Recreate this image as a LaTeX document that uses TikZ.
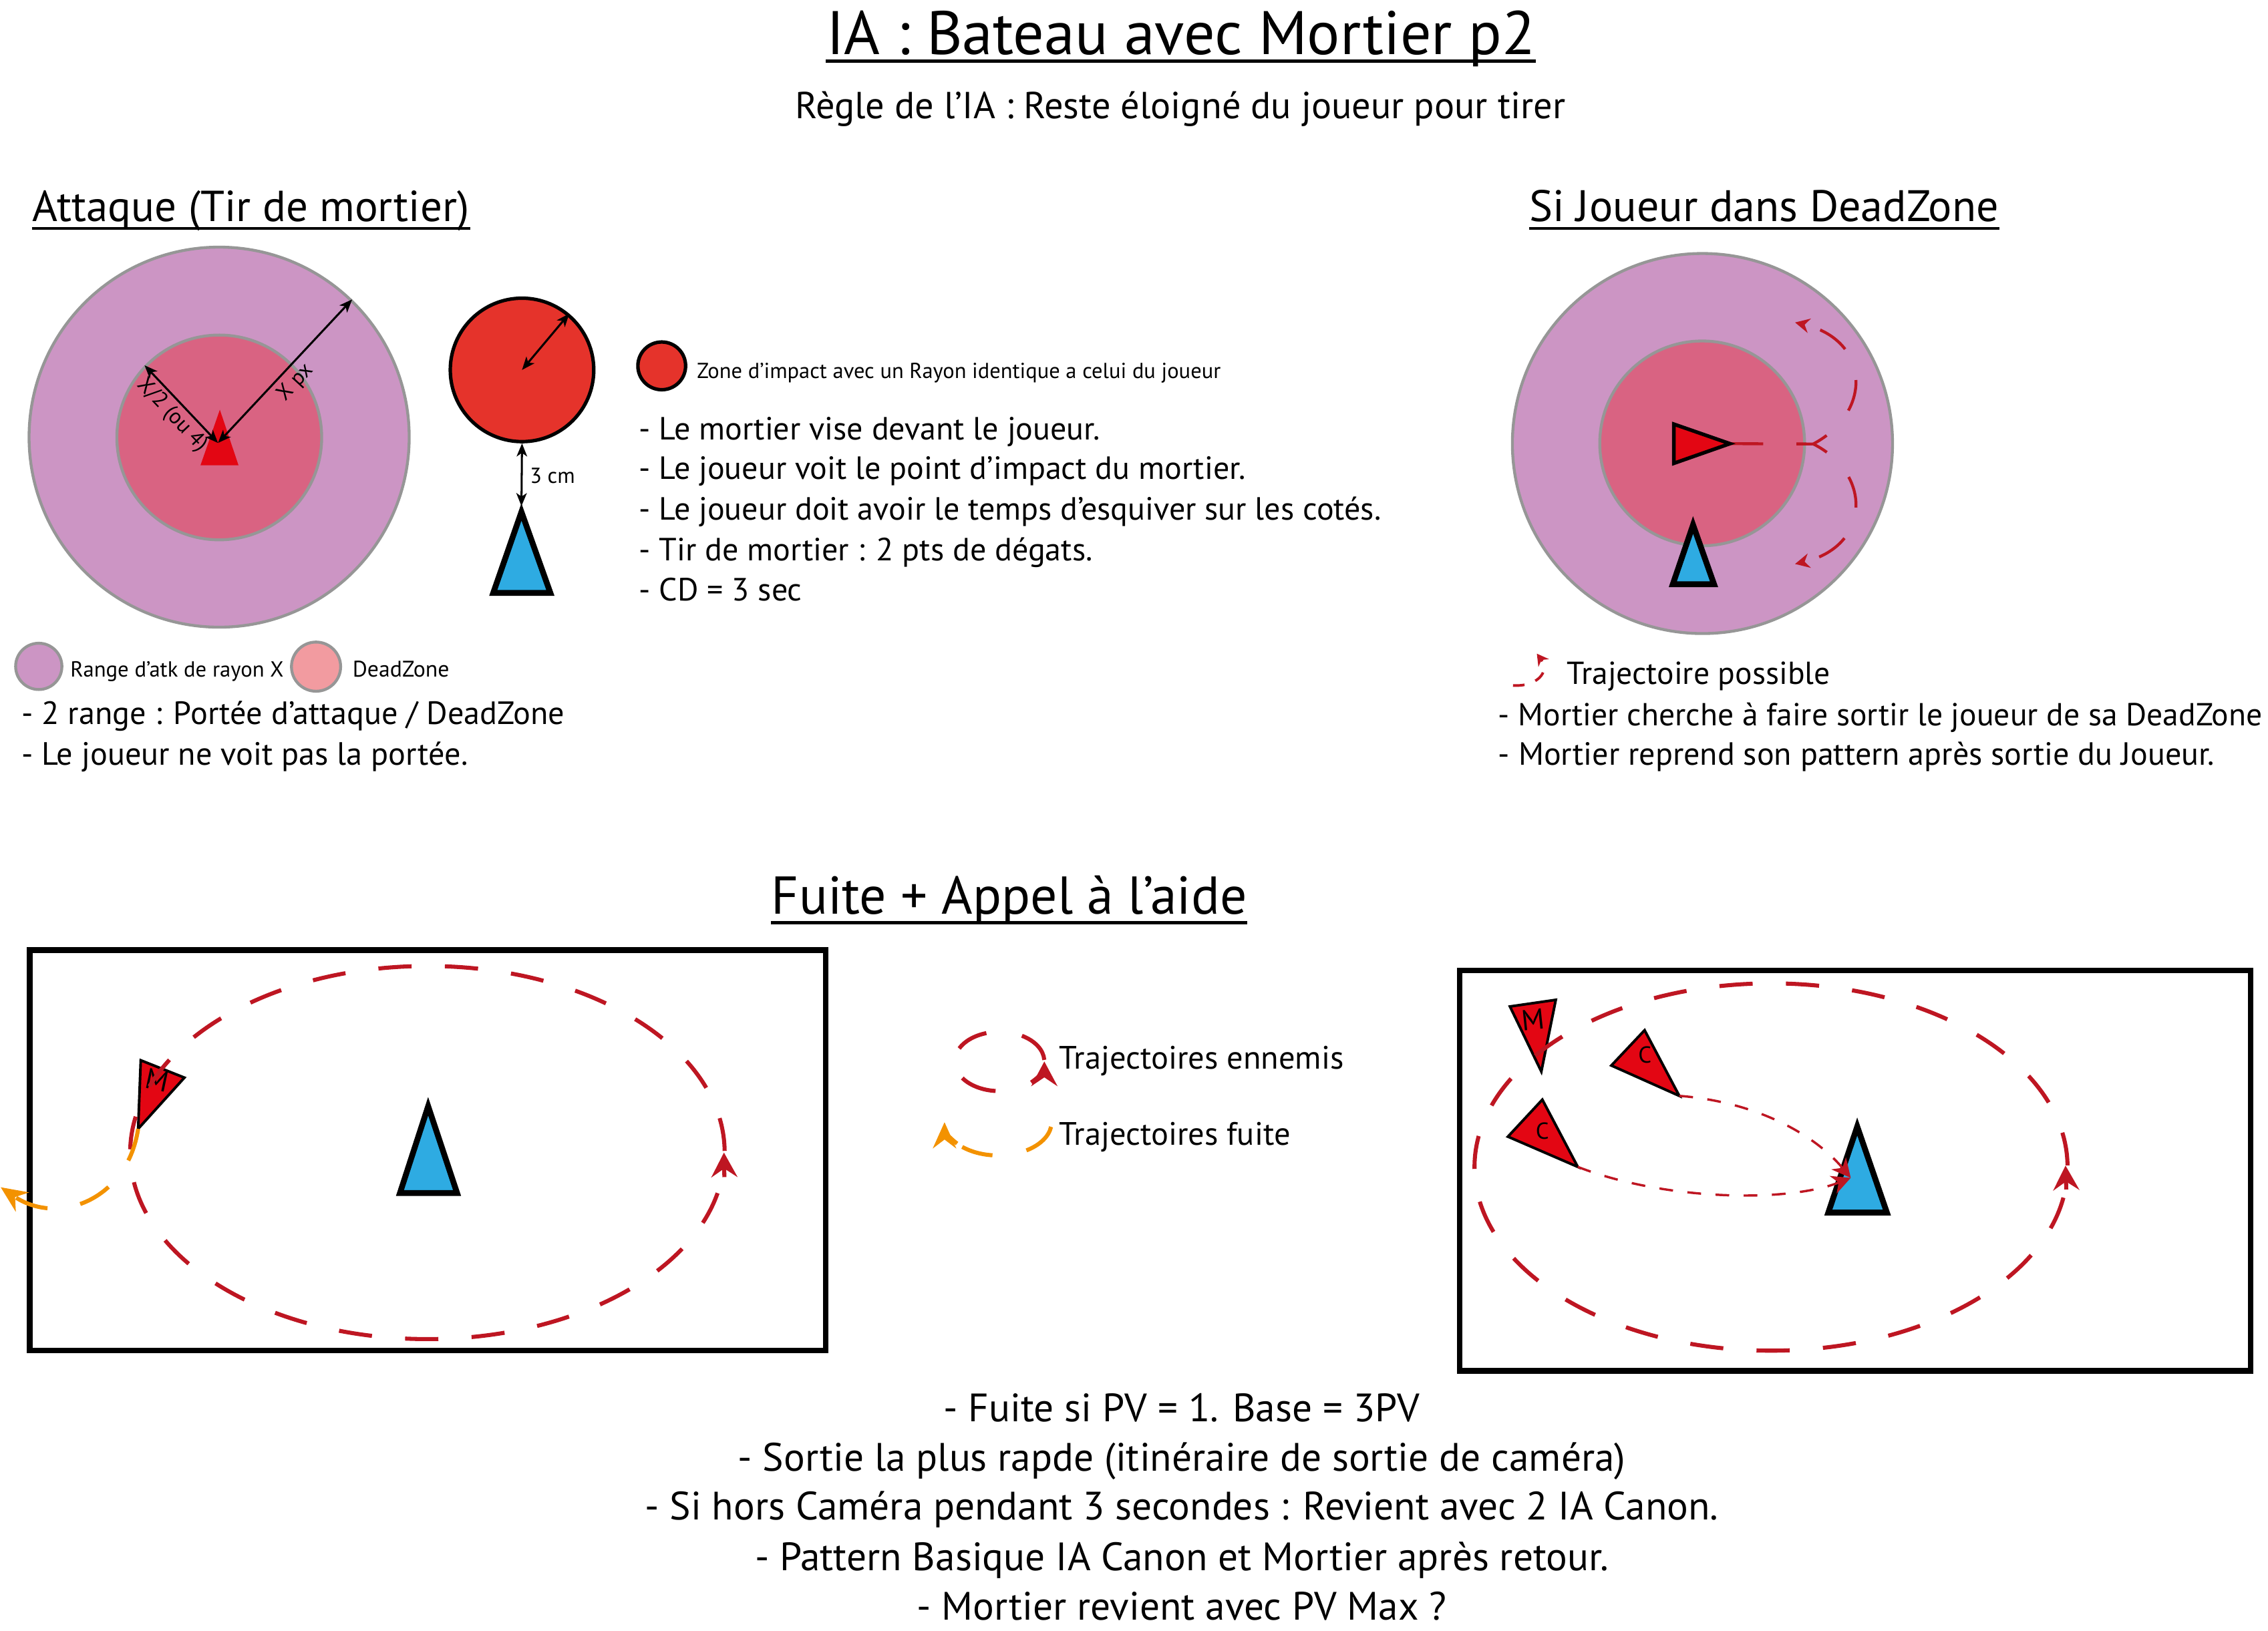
\documentclass[tikz,border=0pt]{standalone}
\usepackage{fontspec}
\setmainfont{PT Sans}
\usetikzlibrary{arrows.meta}
\definecolor{purp}{RGB}{204,149,196}
\definecolor{dzin}{RGB}{217,99,130}
\definecolor{dzpink}{RGB}{242,155,160}
\definecolor{grayst}{RGB}{150,150,150}
\definecolor{shipred}{RGB}{227,6,19}
\definecolor{impred}{RGB}{229,51,43}
\definecolor{pblue}{RGB}{46,171,226}
\definecolor{dred}{RGB}{190,22,34}
\definecolor{orng}{RGB}{243,146,0}
\begin{document}
\begin{tikzpicture}[x=0.5pt,y=-0.5pt,
  txt/.style={inner sep=0pt, anchor=base west},
  ctxt/.style={inner sep=0pt, anchor=base},
  zoneout/.style={circle, draw=grayst, line width=1pt, fill=purp, inner sep=0pt},
  zonein/.style={circle, draw=grayst, line width=1pt, fill=dzin, inner sep=0pt},
  dzleg/.style={circle, draw=grayst, line width=1pt, fill=dzpink, inner sep=0pt},
  impact/.style={circle, draw=black, line width=1.2pt, fill=impred, inner sep=0pt},
  dblarr/.style={line width=0.7pt, {Stealth[length=4.5pt,width=3.6pt,inset=1.2pt]}-{Stealth[length=4.5pt,width=3.6pt,inset=1.2pt]}},
  player/.style={fill=pblue, draw=black, line width=2pt, miter limit=10},
  ship/.style={fill=shipred, draw=black, line width=0.9pt},
  reddash/.style={draw=dred, line width=1.4pt, dash pattern=on 11.5pt off 11.5pt},
  redtip/.style={draw=dred, line width=1.4pt, -{Stealth[length=8.5pt,width=9pt,inset=3pt]}},
  dzarc/.style={draw=dred, line width=1pt, dash pattern=on 11pt off 11.5pt, dash phase=5.5pt, -{Stealth[length=5pt,width=5pt,inset=1.6pt]}},
  ctraj/.style={draw=dred, line width=0.8pt, dash pattern=on 4.75pt off 5pt, -{Stealth[length=6.5pt,width=6.5pt,inset=2pt]}},
  fuite/.style={draw=orng, line width=1.4pt, dash pattern=on 11.5pt off 11.5pt, -{Stealth[length=9pt,width=8pt,inset=3pt]}},
  uline/.style={line width=1pt}
]
\useasboundingbox (0,0) rectangle (1568,1127.4);

% ---------------- titles
\node[txt, font=\fontsize{21.25}{24}\selectfont] (ttl) at (571,37.7) {IA : Bateau avec Mortier p2};
\draw[line width=1.2pt] ([yshift=-2.2pt]ttl.base west) -- ([yshift=-2.2pt]ttl.base east);
\node[ctxt, font=\fontsize{13}{16}\selectfont] (sub) at (816,82) {Règle de l’IA : Reste éloigné du joueur pour tirer};

\node[txt, font=\fontsize{15}{18}\selectfont] (hatk) at (22,153) {Attaque (Tir de mortier)};
\draw[uline] ([yshift=-2.5pt]hatk.base west) -- ([yshift=-2.5pt]hatk.base east);
\node[txt, font=\fontsize{15.25}{18}\selectfont] (hdz) at (1057,153) {Si Joueur dans DeadZone};
\draw[uline] ([yshift=-2.5pt]hdz.base west) -- ([yshift=-2.5pt]hdz.base east);

% ---------------- attaque
\node[zoneout, minimum size=131.4pt] (atkout) at (151.5,302.3) {};
\node[zonein, minimum size=70.8pt] (atkin) at (151.6,302.5) {};
\fill[shipred] (152,283.3) -- (164.9,321.8) -- (138.6,321.8) -- cycle;
\coordinate (atkc) at (150.7,306.3);
\draw[dblarr] (atkc) -- (atkin.136);
\draw[dblarr] (atkc) -- (atkout.46.5);
\node[inner sep=0pt, rotate=-46.6, font=\fontsize{7.5}{9}\selectfont] (lhalf) at (119,287) {X/2 (ou 4)};
\node[inner sep=0pt, rotate=47.5, font=\fontsize{7.5}{9}\selectfont] (lx) at (204.5,264.5) {X px};

\node[impact, minimum size=49.6pt] (imp) at (360.9,255.8) {};
\draw[dblarr] (imp.center) -- (imp.50);
\coordinate (p1apex) at (360.5,350);
\draw[player] (360.5,354) -- (380.5,410) -- (341,410) -- cycle;
\draw[dblarr] (imp.south) -- (p1apex);
\node[inner sep=0pt, anchor=west, font=\fontsize{7.5}{9}\selectfont] (l3cm) at (366,329) {3 cm};

\node[impact, minimum size=16.5pt] (implg) at (457.5,253) {};
\node[txt, font=\fontsize{7.5}{9}\selectfont] (limp) at (481.5,261.5) {Zone d’impact avec un Rayon identique a celui du joueur};

\begin{scope}[every node/.style={txt, font=\fontsize{11.1}{13}\selectfont}]
\node (b1) at (441.5,304) {- Le mortier vise devant le joueur.};
\node (b2) at (441.5,331.6) {- Le joueur voit le point d’impact du mortier.};
\node (b3) at (441.5,359.6) {- Le joueur doit avoir le temps d’esquiver sur les cotés.};
\node (b4) at (441.5,387.5) {- Tir de mortier : 2 pts de dégats.};
\node (b5) at (441.5,415.4) {- CD = 3 sec};
\end{scope}

\node[zoneout, minimum size=16pt] (lgpurp) at (26.8,460.8) {};
\node[txt, font=\fontsize{7.55}{9}\selectfont] (lrange) at (48.3,468) {Range d’atk de rayon X};
\node[dzleg, minimum size=17pt] (lgpink) at (218.5,461) {};
\node[txt, font=\fontsize{7.8}{9}\selectfont] (ldz) at (243.4,468) {DeadZone};
\node[txt, font=\fontsize{11.15}{13}\selectfont] (a1) at (14.6,501) {- 2 range : Portée d’attaque / DeadZone};
\node[txt, font=\fontsize{11.15}{13}\selectfont] (a2) at (14.6,529) {- Le joueur ne voit pas la portée.};

% ---------------- deadzone
\node[zoneout, minimum size=131.4pt] (dzout) at (1177,306.7) {};
\node[zonein, minimum size=70.8pt] (dzinn) at (1176.8,306.6) {};
\coordinate (dztip) at (1196,306.8);
\coordinate (dzv) at (1253.6,307);
\draw[dred, line width=1pt, dash pattern=on 11.5pt off 11.5pt] (dztip) -- (dzv);
\draw[ship, line width=1.25pt] (1157.2,293.3) -- (dztip) -- (1157.2,320.4) -- cycle;
\coordinate (dzup) at (1241,223);
\coordinate (dzdn) at (1241,390);
\draw[dzarc] (dzv) .. controls (1295,285) and (1293,235) .. (dzup);
\draw[dzarc] (dzv) .. controls (1295,328) and (1293,378) .. (dzdn);
\draw[player] (1170.5,363) -- (1185,404) -- (1156.5,404) -- cycle;

\coordinate (tpA) at (1046,474);
\coordinate (tpB) at (1062.5,452);
\draw[draw=dred, line width=0.9pt, dash pattern=on 4pt off 4pt, -{Stealth[length=4pt,width=4.5pt,inset=1.3pt]}] (tpA) .. controls (1062,475) and (1072,465) .. (tpB);
\node[txt, font=\fontsize{11}{13}\selectfont] (ltp) at (1083,473.4) {Trajectoire possible};
\node[txt, font=\fontsize{11}{13}\selectfont] (d1) at (1035.5,502) {- Mortier cherche à faire sortir le joueur de sa DeadZone};
\node[txt, font=\fontsize{11.1}{13}\selectfont] (d2) at (1035.5,529) {- Mortier reprend son pattern après sortie du Joueur.};

% ---------------- fuite
\node[txt, font=\fontsize{18.4}{21}\selectfont] (hfu) at (533,632) {Fuite + Appel à l’aide};
\draw[line width=1.1pt] ([yshift=-3pt]hfu.base west) -- ([yshift=-3pt]hfu.base east);

% left box
\draw[line width=1.9pt] (20.5,657) rectangle (571,934);
\draw[ship] (97.3,733.2) -- (127.5,745.2) -- (95.5,780.6) -- cycle;
\node[inner sep=0pt, rotate=-12, font=\fontsize{10}{12}\selectfont] (mL) at (108.5,747) {M};
\draw[player] (296,765) -- (316,825) -- (276.5,825) -- cycle;
\draw[reddash] (295.5,797) ++(-0.5:205.5 and 129) arc[start angle=-0.5, end angle=-352, x radius=205.5, y radius=129];
\coordinate (aLb) at (500.8,814);
\coordinate (aLt) at (500.5,797);
\draw[redtip] (aLb) -- (aLt);
\coordinate (mLapex) at (95.5,780.6);
\coordinate (exitL) at (0.5,821);
\draw[fuite] (mLapex) .. controls (88,830) and (40,848) .. (exitL);

% legend middle
\draw[dred, line width=1.4pt] (691,734) ++(-154:31 and 20.5) arc[start angle=-154, end angle=-107, x radius=31, y radius=20.5];
\draw[dred, line width=1.4pt] (691,734) ++(-60:31 and 20.5) arc[start angle=-60, end angle=-3, x radius=31, y radius=20.5];
\draw[dred, line width=1.4pt] (691,734) ++(95:31 and 20.5) arc[start angle=95, end angle=146, x radius=31, y radius=20.5];
\draw[redtip] (691,734) ++(45:31 and 20.5) arc[start angle=45, end angle=0, x radius=31, y radius=20.5];
\node[txt, font=\fontsize{11.2}{13}\selectfont] (lten) at (732,739) {Trajectoires ennemis};
\draw[orng, line width=1.4pt] (690,776) ++(8:37 and 23) arc[start angle=8, end angle=58, x radius=37, y radius=23];
\draw[orng, line width=1.4pt] (690,776) ++(96:37 and 23) arc[start angle=96, end angle=132, x radius=37, y radius=23];
\draw[orng, line width=1.4pt, -{Stealth[length=9pt,width=8pt,inset=3pt]}] (690,776) ++(140:37 and 23) arc[start angle=140, end angle=180, x radius=37, y radius=23];
\node[txt, font=\fontsize{11.2}{13}\selectfont] (ltf) at (732,792) {Trajectoires fuite};

% right box
\draw[line width=1.9pt] (1009,671) rectangle (1556,948);
\draw[ship] (1043.9,696) -- (1075.6,691.4) -- (1065.6,741) -- cycle;
\node[inner sep=0pt, rotate=6, font=\fontsize{10}{12}\selectfont] (mR) at (1060,705) {M};
\draw[ship] (1137,712.4) -- (1161,757.8) -- (1114,736.8) -- cycle;
\node[inner sep=0pt, font=\fontsize{8}{10}\selectfont] (c1) at (1137.2,729.6) {C};
\draw[ship] (1066.3,760.4) -- (1090.8,806.9) -- (1042.5,786) -- cycle;
\node[inner sep=0pt, font=\fontsize{8}{10}\selectfont] (c2) at (1066.3,782.1) {C};
\draw[reddash] (1224.4,807) ++(-0.5:205 and 127) arc[start angle=-0.5, end angle=-352, x radius=205, y radius=127];
\coordinate (aRb) at (1428.5,822.5);
\coordinate (aRt) at (1428,806);
\draw[redtip] (aRb) -- (aRt);
\draw[player] (1284,779) -- (1304.5,838.5) -- (1264,838.5) -- cycle;
\coordinate (c1apex) at (1161,757.8);
\coordinate (c2apex) at (1090.8,806.9);
\coordinate (ptgt) at (1279.5,814.5);
\draw[ctraj] (c1apex) .. controls (1215,762) and (1255,785) .. (ptgt);
\draw[ctraj] (c2apex) .. controls (1150,830) and (1235,832) .. (ptgt);

% bottom text
\begin{scope}[every node/.style={ctxt, font=\fontsize{13.7}{16}\selectfont}]
\node (e1) at (817,983) {- Fuite si PV = 1. Base = 3PV};
\node (e2) at (817,1017) {- Sortie la plus rapde (itinéraire de sortie de caméra)};
\node (e3) at (817,1051) {- Si hors Caméra pendant 3 secondes : Revient avec 2 IA Canon.};
\node (e4) at (817,1086) {- Pattern Basique IA Canon et Mortier après retour.};
\node (e5) at (817,1120) {- Mortier revient avec PV Max ?};
\end{scope}
\end{tikzpicture}
\end{document}
